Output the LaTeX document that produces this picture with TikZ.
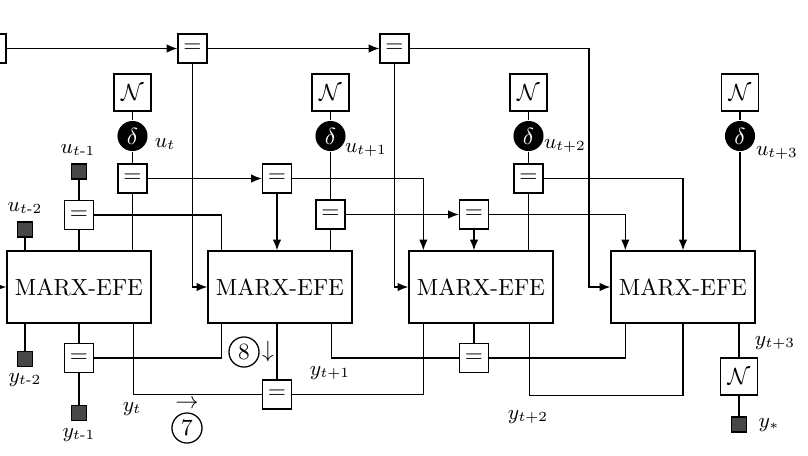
\documentclass[tikz,border=0pt]{standalone}
\usepackage{amsmath}
\usetikzlibrary{arrows.meta,calc}
\begin{document}
\begin{tikzpicture}[x=0.429pt,y=-0.429pt, line width=0.55pt,
 box/.style={draw, minimum width=61.8pt, minimum height=30.9pt, inner sep=0pt},
 eqbox/.style={draw, fill=white, minimum size=12.4pt, inner sep=0pt},
 nbox/.style={draw, fill=white, minimum size=15.9pt, inner sep=0pt},
 dnode/.style={circle, fill=black, minimum size=12.9pt, inner sep=0pt, text=white},
 obs/.style={draw, fill=black!72, minimum size=6.4pt, inner sep=0pt},
 lab/.style={font=\small, inner sep=0pt},
 num/.style={circle, draw, minimum size=12.9pt, inner sep=0pt},
 arr/.style={-{Latex[length=4.6pt,width=3.6pt]}}]
\useasboundingbox (0,0) rectangle (808,455);
\clip (0,0) rectangle (808,455);
% top equality chain
\node[eqbox] (e0) at (-8.5,48.5) {$=$};
\node[eqbox] (e1) at (192.5,48.5) {$=$};
\node[eqbox] (e2) at (394.5,48.5) {$=$};
% MARX-EFE blocks
\node[box] (m1) at (79,287) {MARX-EFE};
\node[box] (m2) at (280,287) {MARX-EFE};
\node[box] (m3) at (481,287) {MARX-EFE};
\node[box] (m4) at (683,287) {MARX-EFE};
% priors and deltas
\node[nbox] (n1) at (132.5,92.5) {$\mathcal{N}$};
\node[nbox] (n2) at (330.5,92.5) {$\mathcal{N}$};
\node[nbox] (n3) at (528.5,92.5) {$\mathcal{N}$};
\node[nbox] (n4) at (740,92.5) {$\mathcal{N}$};
\node[dnode] (d1) at (132.5,136) {$\delta$};
\node[dnode] (d2) at (330.5,136) {$\delta$};
\node[dnode] (d3) at (528.5,136) {$\delta$};
\node[dnode] (d4) at (740,136) {$\delta$};
% equality nodes on controls
\node[eqbox] (a1) at (132.5,178.5) {$=$};
\node[eqbox] (a2) at (277,178.5) {$=$};
\node[eqbox] (a3) at (528.5,178.5) {$=$};
\node[eqbox] (b1) at (79,215) {$=$};
\node[eqbox] (b2) at (330.5,214.5) {$=$};
\node[eqbox] (b3) at (474,214.5) {$=$};
% observed controls
\node[obs] (su2) at (25,229.5) {};
\node[obs] (su1) at (79,171.5) {};
% bottom
\node[obs] (sy2) at (25,359) {};
\node[eqbox] (c1) at (79,358) {$=$};
\node[obs] (sy1) at (79,413) {};
\node[eqbox] (c2) at (277,394.5) {$=$};
\node[eqbox] (c3) at (474,358) {$=$};
\node[nbox] (n5) at (739,376.5) {$\mathcal{N}$};
\node[obs] (sy) at (739,424.5) {};
\coordinate (lin) at (-12,287);
% top connections
\draw[arr] (e0) -- (e1);
\draw[arr] (e1) -- (e2);
\draw[arr] (e2) -- (589,48.5) |- (m4);
\draw[arr] (e1) |- (m2);
\draw[arr] (e2) |- (m3);
\draw[arr] (lin) -- (m1);
% control connections
\draw (n1) -- (d1) -- (a1) -- (a1 |- m1.north);
\draw (su2) -- (su2 |- m1.north);
\draw (su1) -- (b1) -- (b1 |- m1.north);
\draw (b1) -| ($(m2.north west)+(14.5,0)$);
\draw[arr] (a1) -- (a2);
\draw[arr] (a2) -- (a2 |- m2.north);
\draw[arr] (a2) -| ($(m3.north west)+(15,0)$);
\draw (n2) -- (d2) -- (b2) -- (b2 |- m2.north);
\draw[arr] (b2) -- (b3);
\draw[arr] (b3) -- (b3 |- m3.north);
\draw[arr] (b3) -| ($(m4.north west)+(15,0)$);
\draw (n3) -- (d3) -- (a3) -- (a3 |- m3.north);
\draw[arr] (a3) -| (m4.north);
\draw (n4) -- (d4) -- (d4 |- m4.north);
% output connections
\draw (sy2 |- m1.south) -- (sy2);
\draw (c1 |- m1.south) -- (c1) -- (sy1);
\draw (c1) -| ($(m2.south west)+(14.5,0)$);
\draw ($(m1.south east)+(-18.5,0)$) |- (c2);
\draw (c2 |- m2.south) -- (c2);
\draw (c2) -| ($(m3.south west)+(15,0)$);
\draw ($(m2.south east)+(-21.5,0)$) |- (c3);
\draw (c3 |- m3.south) -- (c3);
\draw (c3) -| ($(m4.south west)+(15,0)$);
\draw ($(m3.south east)+(-24.5,0)$) |- ($(m4.south)+(0,71.5)$) -- (m4.south);
\draw (n5 |- m4.south) -- (n5) -- (sy);
% labels
\node[lab] at (165,144) {$u_{t}$};
\node[lab] at (366,150) {$u_{t+1}$};
\node[lab] at (565,146) {$u_{t+2}$};
\node[lab] at (777,153) {$u_{t+3}$};
\node[lab] at (78,150) {$u_{t\text{-}1}$};
\node[lab] at (25,208) {$u_{t\text{-}2}$};
\node[lab] at (25,380) {$y_{t\text{-}2}$};
\node[lab] at (79,435) {$y_{t\text{-}1}$};
\node[lab] at (132,409) {$y_{t}$};
\node[lab] at (330,373) {$y_{t+1}$};
\node[lab] at (528,417) {$y_{t+2}$};
\node[lab] at (775,343) {$y_{t+3}$};
\node[lab] at (769,425) {$y_{*}$};
% message numbers
\node[num] (k8) at (244,352) {8};
\node[inner sep=0pt] (k8a) at (268,352) {$\downarrow$};
\node[num] (k7) at (187,428) {7};
\node[inner sep=0pt] (k7a) at (187,404) {$\rightarrow$};
\end{tikzpicture}
\end{document}
